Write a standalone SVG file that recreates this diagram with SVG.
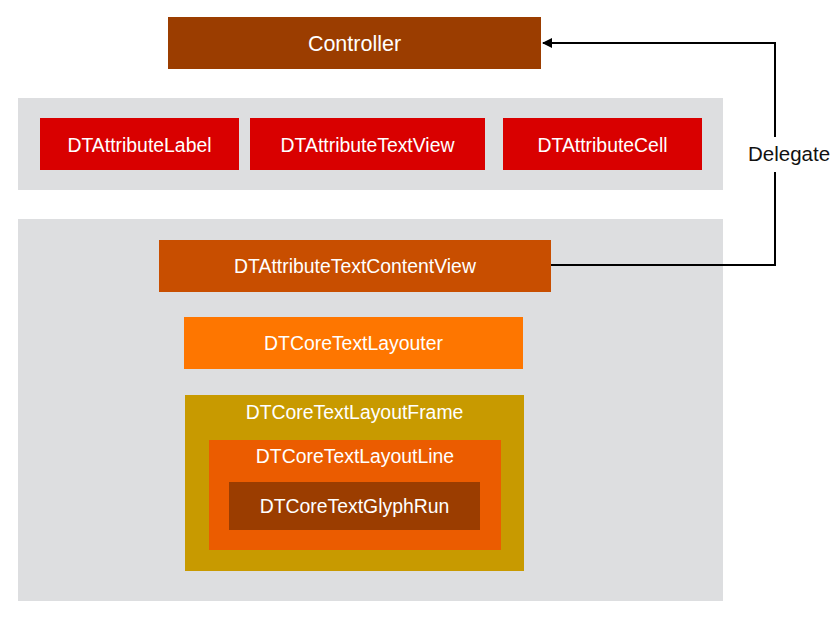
<svg xmlns="http://www.w3.org/2000/svg" width="840" height="617" viewBox="0 0 840 617">
<style>
text{font-family:"Liberation Sans",Arial,Helvetica,sans-serif;fill:#ffffff;text-anchor:middle;font-size:19.4px}
.band{fill:#dddee0}
.red{fill:#d90000}
.conn{fill:none;stroke:#000;stroke-width:2}
.lbl{fill:#111;text-anchor:start;font-size:20.5px}
</style>
<defs>
<marker id="arr" markerWidth="10" markerHeight="10" refX="9" refY="5" orient="auto" markerUnits="userSpaceOnUse">
<path d="M0,0 L10,5 L0,10 Z" fill="#000"/>
</marker>
</defs>
<rect width="840" height="617" fill="#fff"/>
<g id="views-band"><rect class="band" x="18" y="98" width="705" height="92"/></g>
<g id="content-band"><rect class="band" x="18" y="219" width="705" height="382"/></g>
<g id="controller"><rect x="168" y="17" width="373" height="52" fill="#9b3d00"/><text x="354.5" y="50.5" style="font-size:21.5px">Controller</text></g>
<g id="label"><rect class="red" x="40" y="118" width="199" height="52"/><text x="139.5" y="151.5">DTAttributeLabel</text></g>
<g id="textview"><rect class="red" x="250" y="118" width="235" height="52"/><text x="367.5" y="151.5">DTAttributeTextView</text></g>
<g id="cell"><rect class="red" x="503" y="118" width="199" height="52"/><text x="602.5" y="151.5">DTAttributeCell</text></g>
<g id="contentview"><rect x="159" y="240" width="392" height="52" fill="#c84e00"/><text x="355" y="273">DTAttributeTextContentView</text></g>
<g id="layouter"><rect x="184" y="317" width="339" height="52" fill="#fe7600"/><text x="353.5" y="350">DTCoreTextLayouter</text></g>
<g id="frame"><rect x="185" y="395" width="339" height="176" fill="#c89a00"/><text x="354.5" y="419">DTCoreTextLayoutFrame</text></g>
<g id="line"><rect x="209" y="440" width="292" height="110" fill="#eb5c00"/><text x="355" y="463">DTCoreTextLayoutLine</text></g>
<g id="glyphrun"><rect x="229" y="482" width="251" height="48" fill="#9b3d00"/><text x="354.5" y="513">DTCoreTextGlyphRun</text></g>
<g id="connectors">
<path class="conn" d="M551 265 H775 V43 H543" marker-end="url(#arr)"/>
<rect x="745" y="137" width="90" height="35" fill="#fff"/>
<text class="lbl" x="748" y="160.5">Delegate</text>
</g>
</svg>
